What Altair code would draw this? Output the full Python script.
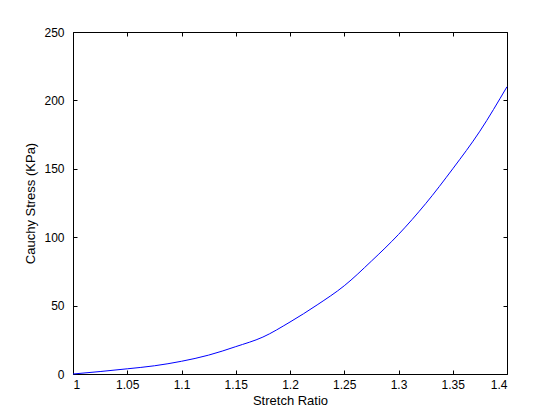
import altair as alt
import pandas as pd

stretch = [1.0, 1.025, 1.05, 1.075, 1.1, 1.125, 1.15, 1.175, 1.2, 1.225,
           1.25, 1.275, 1.3, 1.325, 1.35, 1.375, 1.4]
stress = [0, 1.8, 3.8, 6.0, 9.3, 13.8, 20.0, 27.0, 38.0, 50.5,
          64.5, 82.5, 102.0, 124.5, 150.0, 177.5, 210.0]
x_ticks = [1.0, 1.05, 1.1, 1.15, 1.2, 1.25, 1.3, 1.35, 1.4]
y_ticks = [0, 50, 100, 150, 200, 250]

df = pd.DataFrame({"x": stretch, "y": stress})

W, H = 434, 342
FONT = "Liberation Sans"
xs = alt.Scale(domain=[1.0, 1.4], nice=False, zero=False)
ys = alt.Scale(domain=[0, 250], nice=False)

base = alt.Chart(df)

line = base.mark_line(color="#0000ff", strokeWidth=1, interpolate="monotone").encode(
    x=alt.X("x:Q", scale=xs, axis=alt.Axis(
        values=x_ticks, format="~g", title="Stretch Ratio", ticks=False,
        domain=False, grid=False, labelPadding=5, titlePadding=4)),
    y=alt.Y("y:Q", scale=ys, axis=alt.Axis(
        values=y_ticks, title="Cauchy Stress (KPa)", ticks=False,
        domain=False, grid=False, labelPadding=9, titlePadding=6)),
)

inner1 = base.mark_line(opacity=0).encode(
    x=alt.X("x:Q", scale=xs, axis=alt.Axis(
        orient="top", offset=-H, values=x_ticks, labels=False, title=None,
        domain=False, grid=False, tickSize=4)),
    y=alt.Y("y:Q", scale=ys, axis=alt.Axis(
        orient="right", offset=-W, values=y_ticks, labels=False, title=None,
        domain=False, grid=False, tickSize=4)),
)

inner2 = base.mark_line(opacity=0).encode(
    x=alt.X("x:Q", scale=xs, axis=alt.Axis(
        orient="bottom", offset=-H, values=x_ticks, labels=False, title=None,
        domain=False, grid=False, tickSize=4)),
    y=alt.Y("y:Q", scale=ys, axis=alt.Axis(
        orient="left", offset=-W, values=y_ticks, labels=False, title=None,
        domain=False, grid=False, tickSize=4)),
)

chart = alt.layer(line, inner1, inner2).resolve_axis(
    x="independent", y="independent"
).properties(
    width=W, height=H,
    autosize=alt.AutoSizeParams(type="none"),
    padding={"left": 65, "top": 24, "right": 45, "bottom": 38},
).configure_view(
    stroke="black", strokeWidth=1
).configure_axis(
    labelFont=FONT, titleFont=FONT, labelFontSize=12, titleFontSize=13,
    titleFontWeight="normal", labelColor="black", titleColor="black",
    tickColor="black",
)

chart.save("out.html", embed_options={"renderer": "svg", "actions": False})
